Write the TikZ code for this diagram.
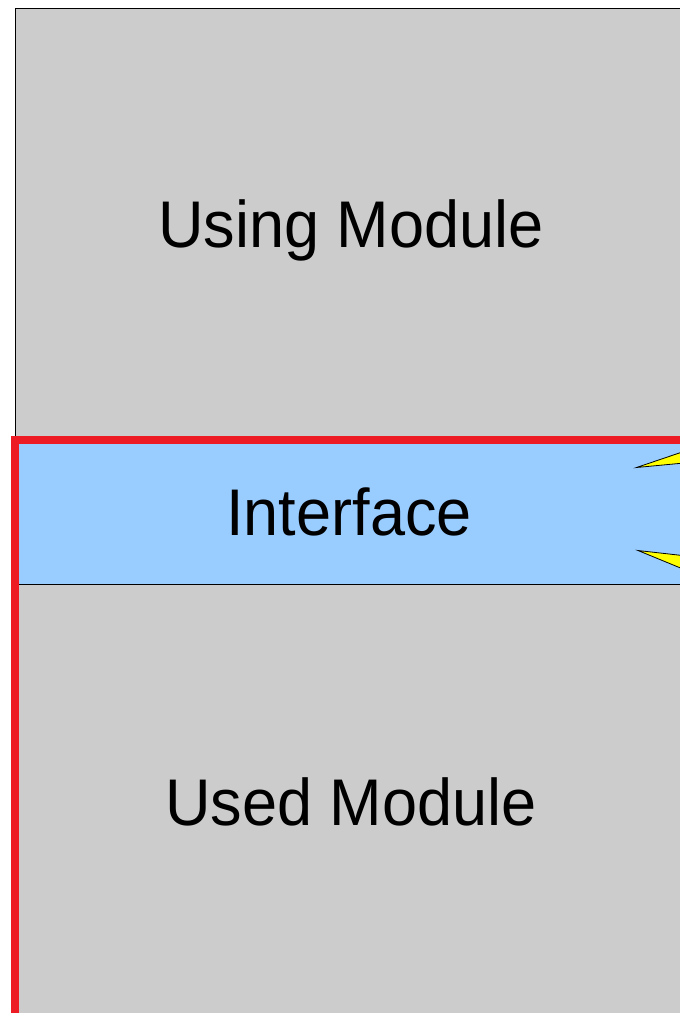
\documentclass[tikz,border=0pt]{standalone}
\usepackage{fontspec}
\setmainfont{Liberation Sans}
\definecolor{modgrey}{HTML}{CCCCCC}
\definecolor{ifblue}{HTML}{99CCFF}
\definecolor{bordred}{HTML}{ED1C24}
\definecolor{calloutyellow}{HTML}{FFFF00}
\newcommand{\lbltext}[1]{\scalebox{0.955}[1]{#1}}
\tikzset{
  modbox/.style={fill=modgrey, draw=black, line width=1pt},
  ifbox/.style={fill=ifblue, draw=black, line width=1pt},
  label/.style={font=\fontsize{66}{72}\selectfont, text=black, inner sep=0pt, anchor=base},
  redline/.style={draw=bordred, line width=7.5pt},
  callout/.style={fill=calloutyellow, draw=black, line width=0.8pt, line join=miter}
}
\begin{document}
\begin{tikzpicture}[x=1pt,y=-1pt]
\useasboundingbox (0,0) rectangle (680,1013);
\clip (0,0) rectangle (680,1013);
\fill[white] (0,0) rectangle (680,1013);
% Using module
\draw[modbox] (15,8) rectangle (700,440);
% Interface
\draw[ifbox] (15,440) rectangle (700,584);
% Used module
\draw[modbox] (15,584) rectangle (700,1030);
% red outline of the used side
\draw[redline] (700,440) -- (15,440) -- (15,1016.5) -- (700,1016.5);
% callouts
\draw[callout] (636.5,467.5) -- (700,446) -- (700,461.5) -- cycle;
\draw[callout] (638,550.5) -- (700,557.5) -- (700,576) -- cycle;
% texts
\node[label] (using) at (351,247) {\lbltext{Using Module}};
\node[label] (iface) at (349,535) {\lbltext{Interface}};
\node[label] (used) at (351,825) {\lbltext{Used Module}};
\end{tikzpicture}
\end{document}
